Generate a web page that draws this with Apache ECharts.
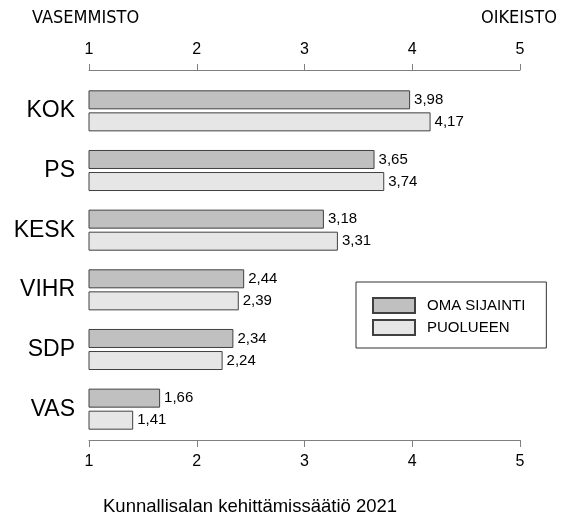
<!DOCTYPE html>
<html><head><meta charset="utf-8">
<script src="https://cdn.jsdelivr.net/npm/echarts@6/dist/echarts.min.js"></script>
<style>html,body{margin:0;padding:0;background:#fff}#c{width:575px;height:517px}</style>
</head><body><div id="c"></div>
<script>
const categories = ['KOK','PS','KESK','VIHR','SDP','VAS'];
const omaSijainti = [3.98,3.65,3.18,2.44,2.34,1.66];
const puolueen = [4.17,3.74,3.31,2.39,2.24,1.41];
const seriesNames = ['OMA SIJAINTI','PUOLUEEN'];
const xTicks = [1,2,3,4,5];

const FONT = '"Liberation Sans", Arial, sans-serif';
const NARROW = '"Liberation Sans Narrow", "DejaVu Sans Condensed", "Liberation Sans", sans-serif';
const chart = echarts.init(document.getElementById('c'), null, {renderer:'canvas'});
const fmt = p => String(p.value.toFixed(2)).replace('.', ',');
const xAxisBase = {
  type:'value', min:xTicks[0], max:xTicks[xTicks.length-1], interval:1,
  axisLine:{show:true, lineStyle:{color:'#808080', width:1}},
  splitLine:{show:false},
  axisLabel:{color:'#000', fontFamily:FONT, fontSize:16}
};
chart.setOption({
  animation:false,
  backgroundColor:'#fff',
  textStyle:{fontFamily:FONT},
  grid:{left:89, right:55, top:81, height:358, containLabel:false},
  xAxis:[
    Object.assign({}, xAxisBase, {position:'top', offset:11,
      axisTick:{show:true, length:6, lineStyle:{color:'#808080'}},
      axisLabel:Object.assign({}, xAxisBase.axisLabel, {margin:12})}),
    Object.assign({}, xAxisBase, {position:'bottom', offset:1,
      axisTick:{show:true, length:7, lineStyle:{color:'#808080'}},
      axisLabel:Object.assign({}, xAxisBase.axisLabel, {margin:14})})
  ],
  yAxis:{type:'category', data:categories, inverse:true,
    axisLine:{show:false}, axisTick:{show:false},
    axisLabel:{color:'#000', fontFamily:FONT, fontSize:23, margin:14}},
  legend:{
    data:seriesNames, orient:'vertical', left:356, top:282,
    itemWidth:42, itemHeight:15, itemGap:5,
    padding:[15,21,12,16],
    borderColor:'#333', borderWidth:1,
    icon:'rect',
    textStyle:{color:'#000', fontFamily:FONT, fontSize:15, lineHeight:15, padding:[0,0,0,7]},
    selectedMode:false
  },
  series:[
    {name:seriesNames[0], type:'bar', xAxisIndex:0, data:omaSijainti, barWidth:19, barGap:'16%',
     itemStyle:{color:'#c0c0c0', borderColor:'#404040', borderWidth:1},
     label:{show:true, position:'right', distance:4, formatter:fmt, color:'#000', fontFamily:FONT, fontSize:15}},
    {name:seriesNames[1], type:'bar', xAxisIndex:0, data:puolueen, barWidth:19, barGap:'16%',
     itemStyle:{color:'#e6e6e6', borderColor:'#404040', borderWidth:1},
     label:{show:true, position:'right', distance:4, formatter:fmt, color:'#000', fontFamily:FONT, fontSize:15}}
  ],
  graphic:[
    {type:'text', left:32, top:9, style:{text:'VASEMMISTO', font:'18px '+NARROW, fill:'#000'}},
    {type:'text', right:18, top:9, style:{text:'OIKEISTO', font:'18px '+NARROW, fill:'#000'}},
    {type:'text', left:103, top:497, style:{text:'Kunnallisalan kehittämissäätiö 2021', font:'18.5px '+FONT, fill:'#000'}}
  ]
});
</script></body></html>
